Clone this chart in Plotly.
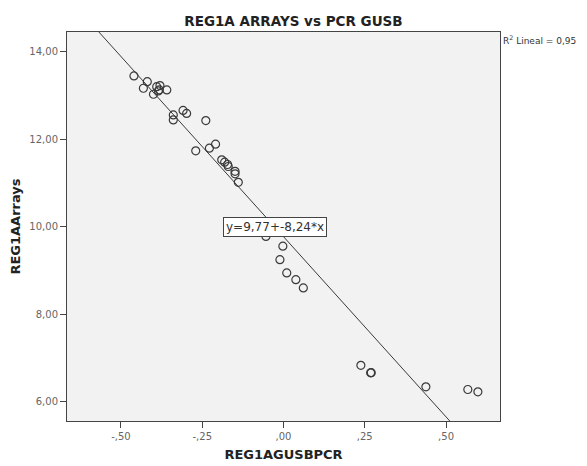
import plotly.graph_objects as go

# Data
pcr_gusb = [-0.460, -0.419, -0.431, -0.390, -0.380, -0.385, -0.400, -0.359, -0.382,
            -0.309, -0.298, -0.339, -0.339, -0.239,
            -0.270, -0.228, -0.209, -0.190, -0.181, -0.172, -0.170, -0.149, -0.149, -0.139,
            -0.054, -0.002, -0.011, 0.010, 0.038, 0.061,
            0.238, 0.268, 0.270, 0.438, 0.567, 0.598]
reg1a_arrays = [13.445, 13.315, 13.164, 13.20, 13.224, 13.103, 13.027, 13.125, 13.13,
                12.657, 12.589, 12.554, 12.44, 12.424,
                11.732, 11.794, 11.885, 11.527, 11.474, 11.42, 11.374, 11.264, 11.207, 11.013,
                9.775, 9.552, 9.243, 8.94, 8.787, 8.597,
                6.829, 6.656, 6.66, 6.336, 6.275, 6.222]

intercept = 9.77
slope = -8.24
r2 = "0,95"

x_range = [-0.666, 0.666]
y_range = [5.555, 14.45]

x_tickvals = [-0.5, -0.25, 0.0, 0.25, 0.5]
x_ticktext = ["-,50", "-,25", ",00", ",25", ",50"]
y_tickvals = [6, 8, 10, 12, 14]
y_ticktext = ["6,00", "8,00", "10,00", "12,00", "14,00"]

fit_x = x_range
fit_y = [intercept + slope * v for v in fit_x]

fig = go.Figure()
fig.add_trace(go.Scatter(
    x=fit_x, y=fit_y, mode="lines",
    line=dict(color="#3a3a3a", width=1), hoverinfo="skip", showlegend=False))
fig.add_trace(go.Scatter(
    x=pcr_gusb, y=reg1a_arrays, mode="markers",
    marker=dict(symbol="circle-open", size=8, color="#3a3a3a", line=dict(width=1.2)),
    showlegend=False))

font_family = "DejaVu Sans, Open Sans, sans-serif"

# The page body has an 8px default margin, so the figure is sized/offset for it.
fig.update_layout(
    width=579, height=458,
    margin=dict(l=59, r=87, t=24, b=44.5, autoexpand=False),
    paper_bgcolor="white", plot_bgcolor="#f2f2f2",
    font=dict(family=font_family, color="#555555", size=10),
    title=dict(text="<b>REG1A ARRAYS vs PCR GUSB</b>", x=0.493, xanchor="center",
               y=0.972, yanchor="middle",
               font=dict(size=13.5, color="#222222", family=font_family)),
    xaxis=dict(range=x_range, tickvals=x_tickvals, ticktext=x_ticktext, automargin=False,
               showgrid=False, zeroline=False, showline=True, mirror=True,
               linecolor="#444444", linewidth=1, ticks="outside", ticklen=6,
               tickcolor="#444444", tickfont=dict(size=10, color="#666666"),
               title=dict(text="<b>REG1AGUSBPCR</b>", standoff=8,
                          font=dict(size=13, color="#222222"))),
    yaxis=dict(range=y_range, tickvals=y_tickvals, ticktext=y_ticktext, automargin=False,
               showgrid=False, zeroline=False, showline=True, mirror=True,
               linecolor="#444444", linewidth=1, ticks="outside", ticklen=6,
               tickcolor="#444444", tickfont=dict(size=10, color="#666666"),
               title=dict(text="<b>REG1AArrays</b>", standoff=8,
                          font=dict(size=13, color="#222222"))),
    annotations=[
        dict(x=-0.026, y=10.0, xref="x", yref="y",
             text="y=9,77+-8,24*x",
             showarrow=False, bgcolor="white", bordercolor="#444444", borderwidth=1,
             borderpad=2, font=dict(size=12, color="#333333")),
        dict(x=1.003, y=1.0, xref="paper", yref="paper", xanchor="left", yanchor="top",
             text=f"R<sup>2</sup> Lineal = {r2}", showarrow=False,
             font=dict(size=9, color="#333333")),
    ],
)

fig.write_html("out.html")
